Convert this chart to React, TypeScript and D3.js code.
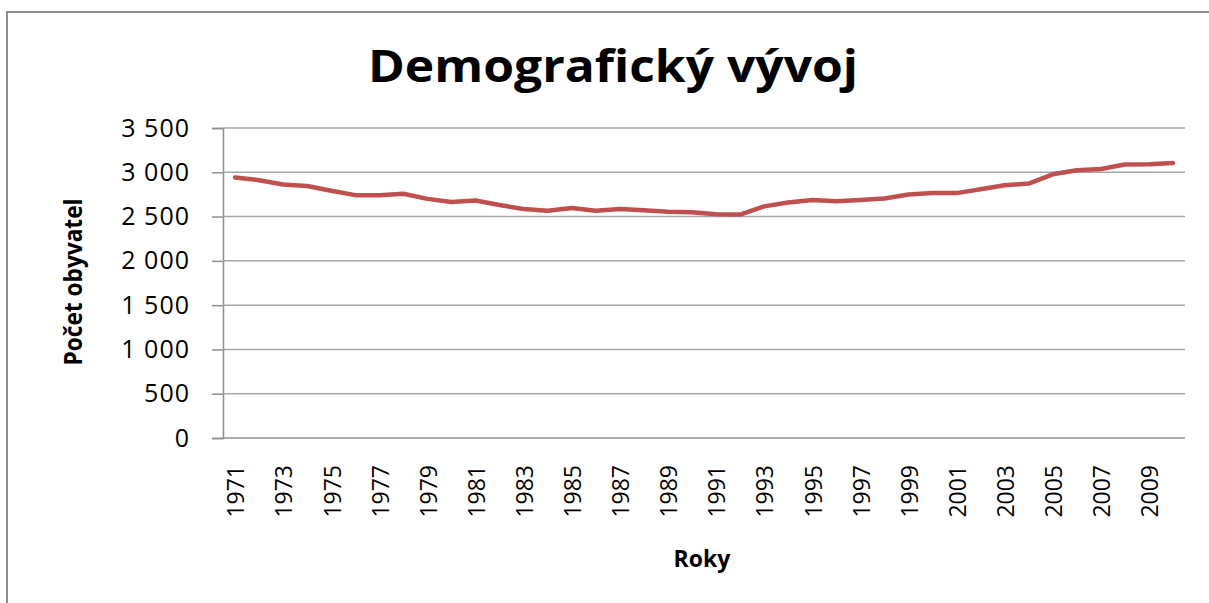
import * as d3 from 'd3';
import React, { useRef, useEffect } from 'react';

const years: string[] = d3.range(1971, 2011).map(y => String(y));
const population: number[] = [
    2942, 2911, 2862, 2846, 2792, 2742, 2742, 2758, 2700, 2665,
    2681, 2630, 2585, 2565, 2596, 2565, 2585, 2570, 2554, 2550,
    2527, 2523, 2615, 2658, 2688, 2673, 2688, 2704, 2750, 2765,
    2765, 2808, 2854, 2873, 2977, 3023, 3038, 3088, 3092, 3104
];
const yTicks: number[] = [0, 500, 1000, 1500, 2000, 2500, 3000, 3500];

const title = "Demografický vývoj";
const yTitle = "Počet obyvatel";
const xTitle = "Roky";

function LineChart({ width, height }: { width: number, height: number }) {
    const ref = useRef<SVGSVGElement>(null);

    useEffect(() => {
        draw();
    }, []);

    const draw = () => {
        const svg = d3.select(ref.current);
        svg.selectAll("*").remove();
        const font = "'Open Sans', 'Liberation Sans', sans-serif";

        // outer frame
        svg.append("rect")
            .attr("x", 7).attr("y", 12)
            .attr("width", width + 20).attr("height", height + 20)
            .attr("fill", "none")
            .attr("stroke", "#8c8c8c")
            .attr("stroke-width", 2);

        const left = 223, right = 1185, top = 128, bottom = 438;

        const x = d3.scaleBand()
            .domain(years)
            .range([left, right]);
        const y = d3.scaleLinear()
            .domain([0, 3500])
            .range([bottom, top]);

        // grid + y axis
        const yAxis = svg.append("g")
            .attr("transform", `translate(${left},0)`)
            .call(d3.axisLeft(y)
                .tickValues(yTicks)
                .tickSize(11)
                .tickPadding(22)
                .tickFormat(d => d3.format(",")(d as number).replace(/,/g, " ")));
        yAxis.select(".domain").attr("stroke", "#8e8e8e").attr("stroke-width", 1.5);
        yAxis.selectAll(".tick line").attr("stroke", "#8e8e8e").attr("stroke-width", 1.5);
        yAxis.selectAll(".tick text")
            .attr("fill", "#000")
            .style("font-family", font)
            .style("font-size", "25px")
            .style("letter-spacing", "1px");

        svg.append("g")
            .selectAll("line")
            .data(yTicks)
            .join("line")
            .attr("x1", left).attr("x2", right)
            .attr("y1", d => y(d)).attr("y2", d => y(d))
            .attr("stroke", d => d === 0 ? "#8e8e8e" : "#a6a6a6")
            .attr("stroke-width", 1.5);

        // x labels
        svg.append("g")
            .selectAll("text")
            .data(years.filter((_, i) => i % 2 === 0))
            .join("text")
            .attr("transform", d => `translate(${(x(d) as number) + x.bandwidth() / 2 + 1},465) rotate(-90)`)
            .attr("text-anchor", "end")
            .attr("dy", "0.36em")
            .style("font-family", font)
            .style("font-size", "23px")
            .text(d => d);

        // line
        const line = d3.line<number>()
            .x((_, i) => (x(years[i]) as number) + x.bandwidth() / 2)
            .y(d => y(d));
        svg.append("path")
            .datum(population)
            .attr("d", line)
            .attr("fill", "none")
            .attr("stroke", "#C0504D")
            .attr("stroke-width", 4.5)
            .attr("stroke-linejoin", "round")
            .attr("stroke-linecap", "round");

        // titles
        svg.append("text")
            .attr("x", 613).attr("y", 82)
            .attr("text-anchor", "middle")
            .attr("textLength", 490)
            .attr("lengthAdjust", "spacingAndGlyphs")
            .style("font-family", font)
            .style("font-weight", "bold")
            .style("font-size", "44px")
            .text(title);

        svg.append("text")
            .attr("transform", "translate(82,282) rotate(-90)")
            .attr("text-anchor", "middle")
            .attr("textLength", 167)
            .attr("lengthAdjust", "spacingAndGlyphs")
            .style("font-family", font)
            .style("font-weight", "bold")
            .style("font-size", "25px")
            .text(yTitle);

        svg.append("text")
            .attr("x", 702).attr("y", 567)
            .attr("text-anchor", "middle")
            .style("font-family", font)
            .style("font-weight", "bold")
            .style("font-size", "23px")
            .text(xTitle);
    }

    return (
        <svg ref={ref} width={width} height={height} style={{ display: "block", background: "#fff" }}>
        </svg>
    )
}

export default function App() {
    return (
        <div style={{ position: "absolute", left: 0, top: 0 }}>
            <LineChart width={1209} height={603} />
        </div>
    )
}
